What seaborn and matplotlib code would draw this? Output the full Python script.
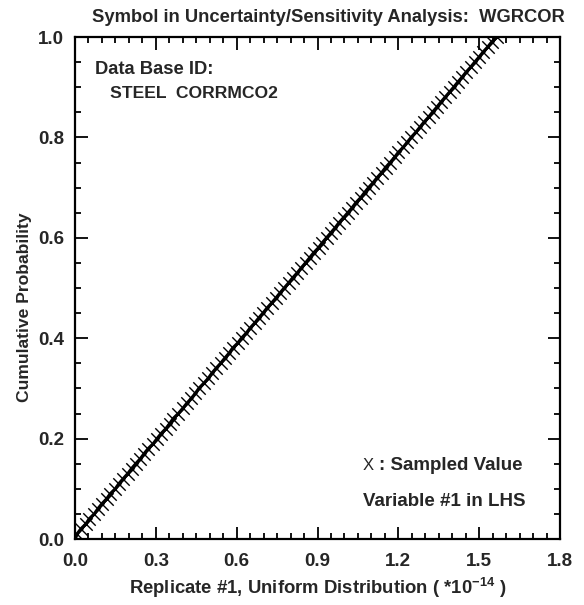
import numpy as np
import pandas as pd
import matplotlib
matplotlib.use("Agg")
import matplotlib.pyplot as plt
from matplotlib.ticker import MultipleLocator
import seaborn as sns

# Sampled values (x 1e-14), sorted LHS sample of size 100
sampled = [0.008, 0.022, 0.041, 0.053, 0.072, 0.085, 0.100, 0.118, 0.131, 0.150,
           0.163, 0.179, 0.196, 0.210, 0.226, 0.243, 0.257, 0.272, 0.291, 0.305,
           0.320, 0.338, 0.352, 0.365, 0.384, 0.400, 0.415, 0.432, 0.447, 0.460,
           0.478, 0.495, 0.508, 0.524, 0.541, 0.556, 0.572, 0.585, 0.604, 0.618,
           0.636, 0.650, 0.667, 0.682, 0.698, 0.713, 0.730, 0.746, 0.761, 0.777,
           0.793, 0.808, 0.825, 0.840, 0.856, 0.871, 0.886, 0.904, 0.918, 0.934,
           0.950, 0.966, 0.980, 0.997, 1.013, 1.029, 1.043, 1.061, 1.075, 1.090,
           1.107, 1.122, 1.139, 1.153, 1.170, 1.186, 1.200, 1.218, 1.233, 1.248,
           1.265, 1.280, 1.295, 1.312, 1.327, 1.343, 1.358, 1.374, 1.390, 1.406,
           1.421, 1.437, 1.452, 1.469, 1.484, 1.500, 1.515, 1.532, 1.547, 1.566]
x_ticks = [0.0, 0.3, 0.6, 0.9, 1.2, 1.5, 1.8]
y_ticks = [0.0, 0.2, 0.4, 0.6, 0.8, 1.0]

title = "Symbol in Uncertainty/Sensitivity Analysis:  WGRCOR"
xlabel = "Replicate #1, Uniform Distribution ( *10$^{-14}$ )"
ylabel = "Cumulative Probability"

sns.set_theme(style="ticks")
plt.rcParams["font.family"] = ["Liberation Sans", "DejaVu Sans"]
plt.rcParams["mathtext.default"] = "regular"

n = len(sampled)
df = pd.DataFrame({"x": sampled, "p": np.arange(1, n + 1) / n})
line_df = pd.concat([pd.DataFrame({"x": [0.0], "p": [0.0]}), df], ignore_index=True)

W, H = 584, 605
L, R, T, B = 75, 560, 37, 539
fig = plt.figure(figsize=(W / 100, H / 100), dpi=100)
ax = fig.add_axes([L / W, 1 - B / H, (R - L) / W, (B - T) / H])

sns.lineplot(data=line_df, x="x", y="p", ax=ax, color="black", linewidth=2.4,
             sort=False, estimator=None)
sns.scatterplot(data=df, x="x", y="p", ax=ax, marker="x", color="black", s=80,
                linewidth=1.0)

ax.set_xlim(0, 1.8)
ax.set_ylim(0, 1.0)
ax.set_xticks(x_ticks)
ax.set_yticks(y_ticks)
ax.set_xticklabels([f"{v:.1f}" for v in x_ticks])
ax.set_yticklabels([f"{v:.1f}" for v in y_ticks])
ax.xaxis.set_minor_locator(MultipleLocator(0.05))
ax.yaxis.set_minor_locator(MultipleLocator(0.05))
ax.tick_params(which="both", direction="in", top=True, right=True, color="black", width=1.3)
ax.tick_params(which="major", length=9, labelsize=13.5)
ax.tick_params(axis="x", which="major", pad=10)
ax.tick_params(axis="y", which="major", pad=8)
ax.tick_params(which="minor", length=4.5)
for lab in ax.get_xticklabels() + ax.get_yticklabels():
    lab.set_fontweight("bold")
for sp in ax.spines.values():
    sp.set_linewidth(1.6)
    sp.set_color("black")

ax.set_xlabel(xlabel, fontsize=13.3, fontweight="bold", va="center")
ax.xaxis.set_label_coords(0.5, -(588 - B) / (B - T))
ax.set_ylabel(ylabel, fontsize=12.6, fontweight="bold", va="center")
ax.yaxis.set_label_coords((24 - L) / (R - L), (B - 307) / (B - T))

fig.text(328 / W, 1 - 17 / H, title, ha="center", va="center", fontsize=13.2,
         fontweight="bold")

def axpos(px, py):
    return (px - L) / (R - L), (B - py) / (B - T)

ax.text(*axpos(95, 69), "Data Base ID:", transform=ax.transAxes, fontsize=13.2,
        fontweight="bold", va="center", ha="left")
ax.text(*axpos(110, 94), "STEEL  CORRMCO2", transform=ax.transAxes, fontsize=12.6,
        fontweight="bold", va="center", ha="left")
ax.text(*axpos(363, 465), "X", transform=ax.transAxes, fontsize=12, va="center", ha="left")
ax.text(*axpos(379, 465), ": Sampled Value", transform=ax.transAxes, fontsize=13.5,
        fontweight="bold", va="center", ha="left")
ax.text(*axpos(363, 502), "Variable #1 in LHS", transform=ax.transAxes, fontsize=13.5,
        fontweight="bold", va="center", ha="left")

fig.savefig("out.png", dpi=100)
